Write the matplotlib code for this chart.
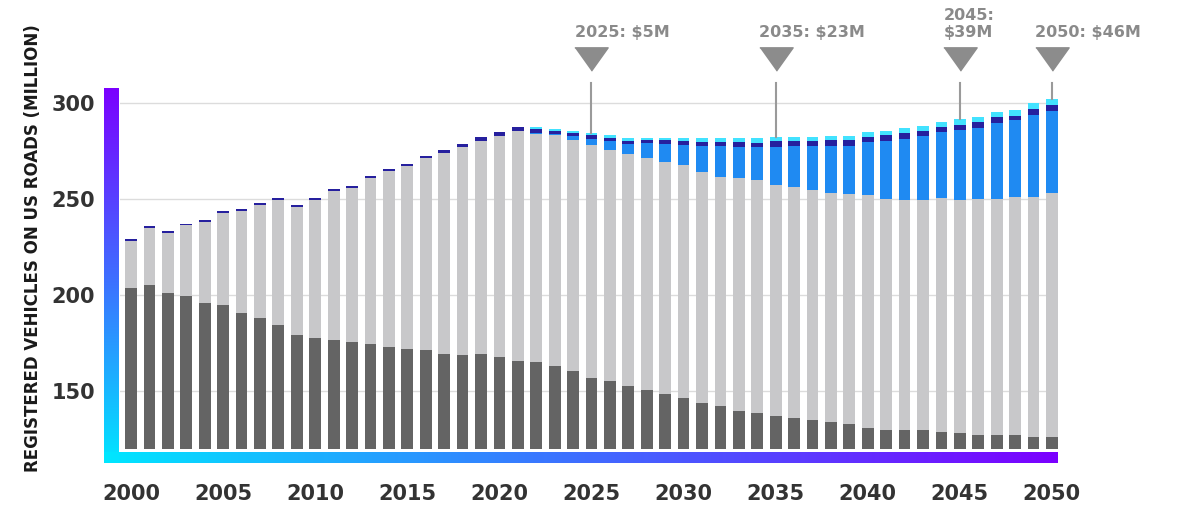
import numpy as np
import matplotlib
matplotlib.use("Agg")
import matplotlib.pyplot as plt
from matplotlib.colors import LinearSegmentedColormap

years = list(range(2000, 2051))

# registered vehicles by segment, millions (stacked bottom to top)
ice = [204, 205.5, 201, 199.5, 196, 195, 191, 188, 184.5, 179.5,
       177.5, 176.5, 175.5, 174.5, 173, 172, 171.5, 169.5, 169, 169.5,
       168, 166, 165, 163, 160.5, 157, 155.5, 153, 150.5, 148.5,
       146.5, 144, 142.5, 140, 138.5, 137, 136, 135, 134, 133,
       131, 130, 130, 130, 129, 128.5, 127.5, 127.5, 127.5, 126.5,
       126.5]
hybrid = [24, 29.4, 31.5, 36.8, 42, 47.9, 52.8, 58.8, 64.9, 66.4,
          71.9, 77.6, 80.3, 86.4, 91.4, 95.4, 99.8, 104.7, 108.2, 110.6,
          114.9, 119.4, 118.9, 120.1, 120.2, 121.2, 120.0, 120.4, 121.0, 120.6,
          121.2, 120.2, 119.1, 120.8, 121.4, 120.2, 120.1, 119.7, 119.3, 119.6,
          121.1, 120.3, 119.5, 119.5, 121.5, 121.0, 122.5, 122.8, 123.7, 124.7,
          126.5]
bev = [0] * 22 + [0.6, 1.0, 2.2, 3.0, 4.7, 5.5, 7.5, 9.7,
                  10.3, 13.4, 15.9, 16.4, 17.2, 20.0, 21.3, 22.7, 24.5, 25.2,
                  27.4, 30.0, 32.0, 33.3, 34.6, 36.3, 37.2, 39.5, 39.7, 42.8,
                  42.7]
phev = [1.0] * 11 + [1.1] * 5 + [1.3] * 3 + [2.0,
        2.2, 2.3, 2.0, 1.2, 1.3, 2.0, 1.5, 1.4, 1.7, 1.8,
        2.0, 2.2, 2.3, 2.4, 2.3, 3.0, 2.8, 2.8, 2.8, 2.8,
        3.0, 2.9, 2.8, 2.8, 2.6, 2.7, 2.7, 2.7, 2.5, 2.7,
        3.3]
fcev = [0] * 22 + [1.2, 1.0, 1.4, 1.3, 1.6, 1.3, 1.3, 1.4,
                   1.6, 1.8, 1.8, 2.0, 2.2, 2.3, 2.3, 2.3, 2.4, 2.4,
                   2.2, 2.4, 2.5, 2.6, 2.6, 3.0, 3.0, 3.0, 3.0, 3.1,
                   3.1]

# EV stock callouts (bev + phev), millions
callout_years = [2025, 2035, 2045, 2050]
callout_values = [5, 23, 39, 46]
callout_text = ["2025: \\${}M", "2035: \\${}M", "2045:\n\\${}M", "2050: \\${}M"]

xtick_years = list(range(2000, 2051, 5))
ytick_values = [150, 200, 250, 300]

W, H = 1178, 508
fig = plt.figure(figsize=(W / 100, H / 100), dpi=100)

def px_box(x0, y0, x1, y1):
    return [x0 / W, 1 - y1 / H, (x1 - x0) / W, (y1 - y0) / H]

ax = fig.add_axes(px_box(120, 88, 1058, 449))

yrs = np.array(years)
segments = [
    (ice, "#646464"),
    (hybrid, "#c8c8ca"),
    (bev, "#1f8af2"),
    (phev, "#26209e"),
    (fcev, "#42e2ff"),
]
bottom = np.zeros(len(years))
for vals, col in segments:
    vals = np.array(vals, dtype=float)
    ax.bar(yrs, vals, bottom=bottom, width=0.64, color=col, linewidth=0, zorder=2)
    bottom += vals
totals = bottom

ax.set_xlim(1999.4, 2050.33)
ax.set_ylim(120, 307.8)
ax.set_yticks(ytick_values)
ax.set_xticks(xtick_years)
ax.grid(axis="y", color="#dcdcdc", linewidth=1)
ax.set_axisbelow(True)
for s in ax.spines.values():
    s.set_visible(False)
ax.tick_params(axis="both", length=0, labelsize=15, labelcolor="#333333")
ax.tick_params(axis="x", pad=25)
ax.tick_params(axis="y", pad=18)
for lbl in ax.get_xticklabels() + ax.get_yticklabels():
    lbl.set_fontweight("bold")

# callout markers above the bars
tri = [(-1, 0.7), (1, 0.7), (0, -0.7)]
for yr, val, txt in zip(callout_years, callout_values, callout_text):
    top = totals[years.index(yr)]
    ax.plot([yr, yr], [310.4, top], color="#9a9a9a", lw=1.5, clip_on=False, zorder=3)
    ax.plot(yr, 323, marker=tri, ms=24, color="#8c8c8c", linestyle="none",
            clip_on=False, zorder=4)
    ax.text(yr - 0.9, 332.8, txt.format(val), ha="left", va="bottom",
            fontsize=11.5, fontweight="bold", color="#8a8a8a", clip_on=False)

# gradient L-frame
cmap = LinearSegmentedColormap.from_list("frame", ["#00e6ff", "#3f6dff", "#7b00ff"])
grad = np.linspace(0, 1, 256)

vax = fig.add_axes(px_box(104, 88, 119, 463))
vax.imshow(grad[::-1].reshape(-1, 1), aspect="auto", cmap=cmap)
vax.axis("off")

hax = fig.add_axes(px_box(104, 452, 1058, 463))
hax.imshow(grad.reshape(1, -1), aspect="auto", cmap=cmap)
hax.axis("off")

fig.text(33 / W, 1 - 248 / H, "REGISTERED VEHICLES ON US ROADS (MILLION)",
         rotation=90, ha="center", va="center", fontsize=12,
         fontweight="bold", color="#1a1a1a")

fig.savefig("out.png", dpi=100)
